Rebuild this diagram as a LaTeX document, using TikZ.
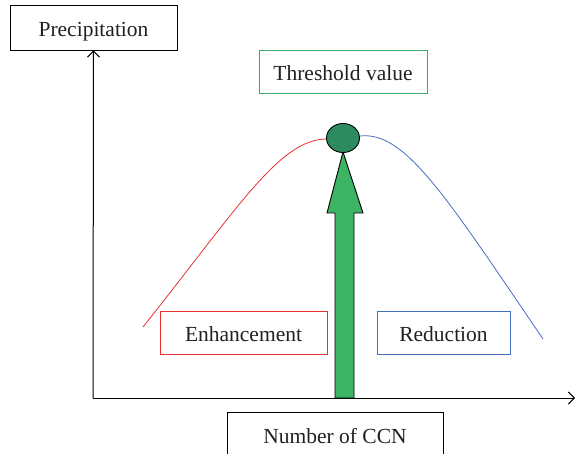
\documentclass[tikz,border=0pt]{standalone}
\usepackage{fontspec}
\setmainfont{Liberation Serif}
\usetikzlibrary{arrows.meta,shapes.geometric}
\definecolor{txt}{RGB}{35,31,32}
\definecolor{thrgreen}{RGB}{60,170,110}
\definecolor{redc}{RGB}{235,50,50}
\definecolor{bluec}{RGB}{70,110,190}
\definecolor{arrgreen}{RGB}{60,180,100}
\definecolor{dotgreen}{RGB}{45,140,95}
\tikzset{
  lbl/.style={draw, line width=0.9pt, inner sep=0pt, text=txt, text height=22pt, text depth=4pt, font=\fontsize{21.5}{24}\selectfont},
  axis/.style={line width=1pt, -{Straight Barb[length=6pt,width=12pt]}},
}
\begin{document}
\begin{tikzpicture}[x=1pt,y=-1pt]
\useasboundingbox (0,0) rectangle (575,454);
\node[lbl, minimum width=167pt, minimum height=45pt] (prec) at (93.5,27.5) {Precipitation};
\node[lbl, draw=thrgreen, minimum width=168pt, minimum height=43pt] (thr) at (343,71.5) {Threshold value};
\node[lbl, draw=redc, minimum width=167pt, minimum height=43pt] (enh) at (243.5,332.5) {Enhancement};
\node[lbl, draw=bluec, minimum width=133pt, minimum height=43pt] (red) at (443.5,332.5) {Reduction};
\node[lbl, minimum width=216pt, minimum height=60pt, anchor=north] (ccn) at (335,412) {};
\node[lbl, draw=none] (ccnt) at (335,434) {Number of CCN};
\coordinate (o) at (93,398);
\coordinate (xe) at (575,398);
\draw[axis] (o) -- (prec.south);
\draw[axis] (o) -- (xe);
% curves
\coordinate (r0) at (143,327);
\coordinate (r1) at (327,139);
\coordinate (b0) at (360,136);
\coordinate (b1) at (543,339);
\draw[redc, line width=0.8pt] (r0) .. controls (240,205) and (280,139) .. (r1);
\draw[bluec, line width=0.8pt] (b0) .. controls (405,131) and (445,195) .. (b1);
% arrow
\draw[fill=arrgreen, line width=0.9pt] (343,152) -- (363,213) -- (354,213) -- (354,398) -- (335,398) -- (335,213) -- (327,213) -- cycle;
\node[draw, line width=0.9pt, fill=dotgreen, ellipse, minimum width=33pt, minimum height=29pt, inner sep=0pt] (dot) at (343,138) {};
\end{tikzpicture}
\end{document}
